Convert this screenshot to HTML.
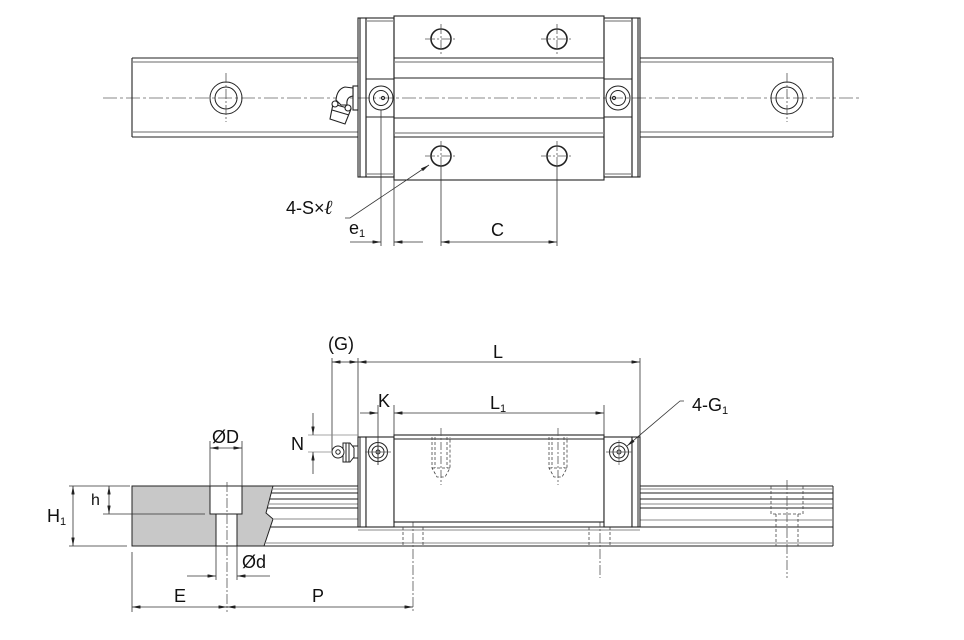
<!DOCTYPE html>
<html><head><meta charset="utf-8"><style>
html,body{margin:0;padding:0;background:#fff;}
svg{display:block;}
text{font-family:"Liberation Sans",Arial,sans-serif;fill:#111;}
</style></head><body>
<svg width="964" height="640" viewBox="0 0 964 640" xmlns="http://www.w3.org/2000/svg">
<defs>
<marker id="a" viewBox="0 0 10 4" refX="10" refY="2" markerWidth="9" markerHeight="3.4" markerUnits="userSpaceOnUse" orient="auto-start-reverse"><path d="M0,0L10,2L0,4z" fill="#222"/></marker>
</defs>

<!-- ================= TOP VIEW ================= -->
<g fill="none" stroke-linecap="butt">
<line x1="103" y1="98" x2="862" y2="98" stroke="#888" stroke-width="1" stroke-dasharray="14,3,3,3"/>
<g stroke="#222" stroke-width="1.1">
<line x1="132" y1="58" x2="358" y2="58"/>
<line x1="132" y1="137" x2="358" y2="137"/>
<line x1="132" y1="58" x2="132" y2="137"/>
<line x1="640" y1="58" x2="833" y2="58"/>
<line x1="640" y1="137" x2="833" y2="137"/>
<line x1="833" y1="58" x2="833" y2="137"/>
</g>
<g stroke="#888" stroke-width="1.3">
<line x1="132" y1="62" x2="358" y2="62"/>
<line x1="132" y1="132" x2="358" y2="132"/>
<line x1="640" y1="62" x2="833" y2="62"/>
<line x1="640" y1="132" x2="833" y2="132"/>
</g>
<g stroke="#222" stroke-width="1">
<circle cx="226" cy="98" r="16"/><circle cx="226" cy="98" r="11"/>
<circle cx="787" cy="98" r="16"/><circle cx="787" cy="98" r="11"/>
</g>
<g stroke="#555" stroke-width="0.8" stroke-dasharray="10,2,2,2">
<line x1="226" y1="73" x2="226" y2="122"/>
<line x1="787" y1="73" x2="787" y2="122"/>
</g>

<g stroke="#222" stroke-width="1.1">
<rect x="358" y="18" width="8" height="159"/>
<line x1="360" y1="18" x2="360" y2="177"/>
<rect x="366" y="18" width="28" height="159"/>
<line x1="366" y1="79" x2="394" y2="79"/>
<line x1="366" y1="117" x2="394" y2="117"/>
<rect x="394" y="16" width="210" height="164"/>
<line x1="394" y1="78" x2="604" y2="78"/>
<line x1="394" y1="118" x2="604" y2="118"/>
<line x1="394" y1="58" x2="604" y2="58"/>
<line x1="394" y1="137" x2="604" y2="137"/>
<rect x="604" y="18" width="28" height="159"/>
<line x1="604" y1="79" x2="632" y2="79"/>
<line x1="604" y1="117" x2="632" y2="117"/>
<rect x="632" y="18" width="8" height="159"/>
<line x1="638" y1="18" x2="638" y2="177"/>
</g>
<g stroke="#888" stroke-width="1.3">
<line x1="394" y1="62" x2="604" y2="62"/>
<line x1="394" y1="133" x2="604" y2="133"/>
<line x1="366" y1="21" x2="394" y2="21"/>
<line x1="366" y1="174" x2="394" y2="174"/>
<line x1="604" y1="21" x2="632" y2="21"/>
<line x1="604" y1="174" x2="632" y2="174"/>
</g>
<g stroke="#222" stroke-width="1.6">
<circle cx="441" cy="39" r="10"/><circle cx="557" cy="39" r="10"/>
<circle cx="441" cy="156" r="10"/><circle cx="557" cy="156" r="10"/>
</g>
<g stroke="#555" stroke-width="0.8" stroke-dasharray="10,2,2,2">
<line x1="425" y1="39" x2="457" y2="39"/><line x1="441" y1="24" x2="441" y2="54"/>
<line x1="541" y1="39" x2="573" y2="39"/><line x1="557" y1="24" x2="557" y2="54"/>
<line x1="425" y1="156" x2="457" y2="156"/><line x1="441" y1="141" x2="441" y2="166"/>
<line x1="541" y1="156" x2="573" y2="156"/><line x1="557" y1="141" x2="557" y2="166"/>
</g>
<g stroke="#222" stroke-width="1">
<circle cx="381" cy="98" r="12"/><circle cx="381" cy="98" r="7.5"/>
<circle cx="383" cy="98" r="1.6"/>
<circle cx="618" cy="98" r="12"/><circle cx="618" cy="98" r="7.5"/>
<circle cx="614" cy="98" r="1.6"/>
</g>
<!-- grease nipple top -->
<g stroke="#222" stroke-width="1.1" fill="#fff">
<rect x="353" y="86" width="5" height="24"/>
<path d="M353,88 L345,87 Q337,89 336,100 L341,105 L347,105 Q346,97 353,96 Z"/>
<path d="M333,104 L351,109 L345,124 L330,119 Z"/>
<line x1="332" y1="110" x2="349" y2="115"/>
<circle cx="335" cy="104" r="3"/>
<circle cx="348" cy="108" r="3"/>
</g>

<g stroke="#333" stroke-width="0.8">
<line x1="381" y1="110" x2="381" y2="246"/>
<line x1="394" y1="180" x2="394" y2="246"/>
<line x1="441" y1="166" x2="441" y2="246"/>
<line x1="557" y1="166" x2="557" y2="246"/>
<line x1="350" y1="242" x2="381" y2="242" marker-end="url(#a)"/>
<line x1="423" y1="242" x2="394" y2="242" marker-end="url(#a)"/>
<line x1="441" y1="242" x2="557" y2="242" marker-start="url(#a)" marker-end="url(#a)"/>
<polyline points="345,218 350,218 429,165" marker-end="url(#a)"/>
</g>
</g>
<text x="286" y="214" font-size="18">4-S×<tspan font-style="italic" font-family="Liberation Serif, serif" font-weight="bold" font-size="20">ℓ</tspan></text>
<text x="349" y="234" font-size="18">e<tspan font-size="11" dy="3">1</tspan></text>
<text x="491" y="236" font-size="18">C</text>

<!-- ================= SIDE VIEW ================= -->
<g fill="none">
<path d="M132,486 L273,486 L266,513 L273,519 L264,546 L132,546 Z" fill="#c8c8c8" stroke="#222" stroke-width="1"/>
<rect x="210" y="486" width="32" height="28" fill="#fff" stroke="#222" stroke-width="1"/>
<rect x="216" y="514" width="21" height="32" fill="#fff" stroke="#222" stroke-width="1"/>
<line x1="227" y1="482" x2="227" y2="612" stroke="#555" stroke-width="0.8" stroke-dasharray="10,2,2,2"/>

<g stroke="#222" stroke-width="1">
<line x1="273" y1="486" x2="358" y2="486"/>
<line x1="271" y1="493" x2="358" y2="493"/>
<line x1="270" y1="499" x2="358" y2="499"/>
<line x1="267" y1="508" x2="358" y2="508"/>
<line x1="270" y1="527" x2="833" y2="527"/>
<line x1="264" y1="546" x2="833" y2="546"/>
<line x1="640" y1="486" x2="833" y2="486"/>
<line x1="640" y1="493" x2="833" y2="493"/>
<line x1="640" y1="499" x2="833" y2="499"/>
<line x1="640" y1="508" x2="833" y2="508"/>
<line x1="833" y1="486" x2="833" y2="546"/>
</g>
<g stroke="#888" stroke-width="1">
<line x1="272" y1="489" x2="358" y2="489"/>
<line x1="268" y1="504" x2="358" y2="504"/>
<line x1="273" y1="519" x2="358" y2="519"/>
<line x1="640" y1="489" x2="833" y2="489"/>
<line x1="640" y1="504" x2="833" y2="504"/>
<line x1="640" y1="520" x2="833" y2="520"/>
<line x1="358" y1="530" x2="640" y2="530"/>
<line x1="265" y1="543" x2="833" y2="543"/>
</g>
<g stroke="#444" stroke-width="0.8" stroke-dasharray="3,2">
<line x1="403" y1="527" x2="403" y2="546"/><line x1="423" y1="527" x2="423" y2="546"/>
<line x1="589" y1="527" x2="589" y2="546"/><line x1="610" y1="527" x2="610" y2="546"/>
<polyline points="771,486 771,514 803,514 803,486"/>
<line x1="776" y1="514" x2="776" y2="546"/><line x1="798" y1="514" x2="798" y2="546"/>
</g>
<g stroke="#555" stroke-width="0.8" stroke-dasharray="10,2,2,2">
<line x1="413" y1="517" x2="413" y2="612"/>
<line x1="600" y1="517" x2="600" y2="578"/>
<line x1="787" y1="480" x2="787" y2="578"/>
</g>

<g stroke="#222" stroke-width="1.1" fill="#fff">
<rect x="358" y="437" width="8" height="90"/>
<rect x="366" y="437" width="28" height="90"/>
<rect x="394" y="435" width="210" height="87"/>
<rect x="604" y="437" width="28" height="90"/>
<rect x="632" y="437" width="8" height="90"/>
</g>
<g stroke="#222" stroke-width="1">
<line x1="394" y1="439" x2="604" y2="439"/>
<line x1="360" y1="437" x2="360" y2="527"/>
<line x1="638" y1="437" x2="638" y2="527"/>
</g>
<g stroke="#444" stroke-width="0.8" stroke-dasharray="3,2">
<polyline points="432,437 432,468 437,477 445,477 450,468 450,437"/>
<line x1="435" y1="437" x2="435" y2="468"/><line x1="447" y1="437" x2="447" y2="468"/>
<line x1="432" y1="468" x2="450" y2="468"/>
<polyline points="549,437 549,468 554,477 562,477 567,468 567,437"/>
<line x1="552" y1="437" x2="552" y2="468"/><line x1="564" y1="437" x2="564" y2="468"/>
<line x1="549" y1="468" x2="567" y2="468"/>
</g>
<g stroke="#555" stroke-width="0.8" stroke-dasharray="8,2,2,2">
<line x1="441" y1="428" x2="441" y2="485"/>
<line x1="558" y1="428" x2="558" y2="485"/>
</g>
<g stroke="#222" stroke-width="1">
<circle cx="378" cy="452" r="9.5"/><circle cx="378" cy="452" r="6"/><circle cx="378" cy="452" r="2"/>
<circle cx="619" cy="452" r="9.5"/><circle cx="619" cy="452" r="6"/><circle cx="619" cy="452" r="2"/>
</g>
<g stroke="#555" stroke-width="0.7">
<line x1="365" y1="452" x2="391" y2="452"/><line x1="378" y1="440" x2="378" y2="465"/>
<line x1="606" y1="452" x2="632" y2="452"/><line x1="619" y1="440" x2="619" y2="465"/>
</g>
<g stroke="#222" stroke-width="1" fill="#fff">
<rect x="352" y="446" width="6" height="12"/>
<path d="M343,443 L350,443 L354,448 L354,457 L350,462 L343,462 Z"/>
<line x1="346" y1="443" x2="346" y2="462"/><line x1="349" y1="443" x2="349" y2="462"/>
<circle cx="338" cy="452" r="6"/>
<circle cx="338" cy="452" r="2.2"/>
</g>

<g stroke="#333" stroke-width="0.8">
<line x1="332" y1="358" x2="332" y2="452"/>
<line x1="358" y1="358" x2="358" y2="437"/>
<line x1="640" y1="358" x2="640" y2="437"/>
<line x1="332" y1="362" x2="345" y2="362" marker-start="url(#a)"/>
<line x1="345" y1="362" x2="358" y2="362" marker-end="url(#a)"/>
<line x1="358" y1="362" x2="640" y2="362" marker-start="url(#a)" marker-end="url(#a)"/>
<line x1="378" y1="405" x2="378" y2="465"/>
<line x1="394" y1="405" x2="394" y2="437"/>
<line x1="604" y1="405" x2="604" y2="437"/>
<line x1="360" y1="413" x2="378" y2="413" marker-end="url(#a)"/>
<line x1="394" y1="413" x2="604" y2="413" marker-start="url(#a)" marker-end="url(#a)"/>
<line x1="308" y1="435" x2="358" y2="435" stroke="#888"/>
<line x1="308" y1="452" x2="332" y2="452" stroke="#888"/>
<line x1="313" y1="413" x2="313" y2="435" marker-end="url(#a)"/>
<line x1="313" y1="474" x2="313" y2="452" marker-end="url(#a)"/>
<polyline points="684,401 680,401 627,446" marker-end="url(#a)"/>
<line x1="210" y1="441" x2="210" y2="486"/>
<line x1="242" y1="441" x2="242" y2="486"/>
<line x1="210" y1="448" x2="242" y2="448" marker-start="url(#a)" marker-end="url(#a)"/>
<line x1="69" y1="486" x2="130" y2="486"/>
<line x1="69" y1="546" x2="127" y2="546"/>
<line x1="103" y1="514" x2="205" y2="514"/>
<line x1="73" y1="486" x2="73" y2="546" marker-start="url(#a)" marker-end="url(#a)"/>
<line x1="109" y1="486" x2="109" y2="514" marker-start="url(#a)" marker-end="url(#a)"/>
<line x1="216" y1="546" x2="216" y2="580"/>
<line x1="237" y1="546" x2="237" y2="580"/>
<line x1="187" y1="576" x2="216" y2="576" marker-end="url(#a)"/>
<line x1="270" y1="576" x2="237" y2="576" marker-end="url(#a)"/>
<line x1="132" y1="552" x2="132" y2="612"/>
<line x1="132" y1="607" x2="227" y2="607" marker-start="url(#a)" marker-end="url(#a)"/>
<line x1="227" y1="607" x2="413" y2="607" marker-start="url(#a)" marker-end="url(#a)"/>
</g>
</g>

<text x="328" y="350" font-size="18">(G)</text>
<text x="493" y="358" font-size="18">L</text>
<text x="378" y="407" font-size="18">K</text>
<text x="490" y="409" font-size="18">L<tspan font-size="11" dy="3">1</tspan></text>
<text x="692" y="411" font-size="18">4-G<tspan font-size="11" dy="3">1</tspan></text>
<text x="291" y="450" font-size="18">N</text>
<text x="212" y="443" font-size="18">ØD</text>
<text x="91" y="505" font-size="16">h</text>
<text x="47" y="522" font-size="18">H<tspan font-size="11" dy="3">1</tspan></text>
<text x="242" y="568" font-size="18">Ød</text>
<text x="174" y="602" font-size="18">E</text>
<text x="312" y="602" font-size="18">P</text>
</svg>
</body></html>
